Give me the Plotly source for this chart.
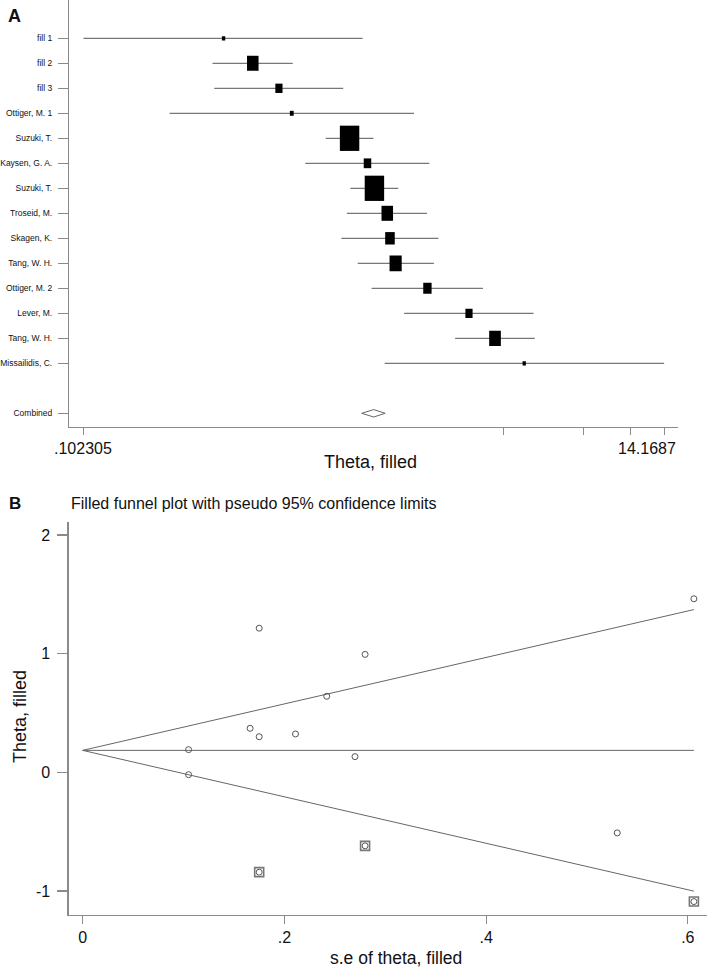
import numpy as np
import plotly.graph_objects as go

# ---------------- data ----------------
studies = ["fill 1", "fill 2", "fill 3", "Ottiger, M. 1", "Suzuki, T.", "Kaysen, G. A.",
           "Suzuki, T.", "Troseid, M.", "Skagen, K.", "Tang, W. H.", "Ottiger, M. 2",
           "Lever, M.", "Tang, W. H.", "Missailidis, C."]
filled = [True, True, True] + [False] * 11

# log effect (theta) and its 95% CI, log scale
theta = [-1.090, -0.842, -0.620, -0.511, -0.020, 0.132, 0.191, 0.300, 0.323, 0.371,
         0.641, 0.994, 1.215, 1.463]
ci_lo = [-2.2798, -1.184, -1.169, -1.548, -0.223, -0.396, -0.013, -0.043, -0.089, 0.049,
         0.167, 0.443, 0.876, 0.278]
ci_hi = [0.091, -0.503, -0.074, 0.527, 0.183, 0.657, 0.393, 0.638, 0.734, 0.696,
         1.113, 1.542, 1.553, 2.6511]
weight_pct = [0.66, 8.0, 3.1, 0.87, 22.7, 3.4, 22.7, 8.0, 5.5, 8.9, 4.2, 3.1, 8.2, 0.66]
se = [0.606, 0.175, 0.280, 0.530, 0.105, 0.270, 0.105, 0.175, 0.211, 0.166,
      0.242, 0.280, 0.175, 0.606]

combined = {"theta": 0.185, "lo": 0.083, "hi": 0.282}

# funnel pseudo 95% limits
lim_se = [0.0, 0.606]
lim_upper = [0.185, 1.372]
lim_lower = [0.185, -1.002]
lim_center = [0.185, 0.185]

forest_tickvals = [0.102305, 3.6189, 7.1355, 10.6521, 14.1687]
forest_ticklabels = [".102305", "", "", "", "14.1687"]
funnel_xticks = [0, 0.2, 0.4, 0.6]
funnel_xlabels = ["0", ".2", ".4", ".6"]
funnel_yticks = [-1, 0, 1, 2]
funnel_ylabels = ["-1", "0", "1", "2"]

# ---------------- layout helpers ----------------
W, H = 709, 970
FONT = "Liberation Sans, Arial, Helvetica, sans-serif"
LINE = "#555555"
AXIS = "#8a8a8a"
TXT = "#111111"


def px(x):
    return x / W


def py(y):
    return 1 - y / H


fig = go.Figure()

row_y = list(range(len(studies)))
comb_y = len(studies) + 1
ROW_PX = 25.0

# CI lines
xs, ys = [], []
for i in range(len(studies)):
    xs += [np.exp(ci_lo[i]), np.exp(ci_hi[i]), None]
    ys += [row_y[i], row_y[i], None]
fig.add_trace(go.Scatter(x=xs, y=ys, mode="lines", line=dict(color=LINE, width=1),
                         xaxis="x", yaxis="y", hoverinfo="skip"))

# weighted boxes (drawn as thick vertical segments)
for i in range(len(studies)):
    h_px = 5.3 * np.sqrt(weight_pct[i])
    w_px = h_px / 1.3
    half = h_px / 2 / ROW_PX
    fig.add_trace(go.Scatter(x=[np.exp(theta[i]), np.exp(theta[i])],
                             y=[row_y[i] - half, row_y[i] + half],
                             mode="lines", line=dict(color="black", width=w_px),
                             xaxis="x", yaxis="y", hoverinfo="skip"))

# combined diamond
dh = 3.7 / ROW_PX
fig.add_trace(go.Scatter(
    x=[np.exp(combined["lo"]), np.exp(combined["theta"]), np.exp(combined["hi"]),
       np.exp(combined["theta"]), np.exp(combined["lo"])],
    y=[comb_y, comb_y - dh, comb_y, comb_y + dh, comb_y],
    mode="lines", line=dict(color="#666666", width=1), xaxis="x", yaxis="y",
    hoverinfo="skip"))

# funnel limit lines
for ys_ in (lim_upper, lim_lower, lim_center):
    fig.add_trace(go.Scatter(x=lim_se, y=ys_, mode="lines",
                             line=dict(color="#666666", width=1),
                             xaxis="x2", yaxis="y2", hoverinfo="skip"))

# funnel points
fig.add_trace(go.Scatter(x=se, y=theta, mode="markers",
                         marker=dict(symbol="circle-open", size=6, color="#555555",
                                     line=dict(width=1)),
                         xaxis="x2", yaxis="y2"))
fse = [s for s, f in zip(se, filled) if f]
fth = [t for t, f in zip(theta, filled) if f]
fig.add_trace(go.Scatter(x=fse, y=fth, mode="markers",
                         marker=dict(symbol="square-open", size=9, color="#777777",
                                     line=dict(width=1.6)),
                         xaxis="x2", yaxis="y2"))

axis_common = dict(showgrid=False, zeroline=False, showline=True, linecolor=AXIS,
                   linewidth=1.2, ticks="outside", tickcolor=AXIS, tickwidth=1.2)

fig.update_layout(
    width=W, height=H,
    margin=dict(l=0, r=0, t=0, b=0),
    paper_bgcolor="white", plot_bgcolor="white",
    showlegend=False,
    font=dict(family=FONT, color=TXT),
    xaxis=dict(domain=[px(67.3), px(678)], type="log", range=[-1.04305, 1.20282],
               anchor="y", tickvals=forest_tickvals,
               ticktext=[""] * len(forest_tickvals), ticklen=7, **axis_common),
    yaxis=dict(domain=[py(426.7), 1.0], range=[15.536, -1.532], anchor="x",
               tickvals=row_y + [comb_y], ticktext=studies + ["Combined"],
               ticklen=10, ticklabelstandoff=4,
               tickfont=dict(size=8.5, family=FONT, color=TXT), **axis_common),
    xaxis2=dict(domain=[px(66.7), px(707)], range=[-0.01404, 0.6190], anchor="y2",
                tickvals=funnel_xticks, ticktext=funnel_xlabels, ticklen=8,
                tickfont=dict(size=16, family=FONT, color=TXT), **axis_common),
    yaxis2=dict(domain=[py(915), py(521.7)], range=[-1.2032, 2.113], anchor="x2",
                tickvals=funnel_yticks, ticktext=funnel_ylabels, ticklen=10,
                ticklabelstandoff=4,
                tickfont=dict(size=16, family=FONT, color=TXT), **axis_common),
)

ann = []
ann.append(dict(text="<b>A</b>", xref="paper", yref="paper", x=px(13), y=py(16),
                xanchor="center", yanchor="middle", showarrow=False,
                font=dict(size=18, family=FONT, color=TXT)))
ann.append(dict(text="<b>B</b>", xref="paper", yref="paper", x=px(13), y=py(503),
                xanchor="center", yanchor="middle", showarrow=False,
                font=dict(size=17, family=FONT, color=TXT)))
ann.append(dict(text="Filled funnel plot with pseudo 95% confidence limits",
                xref="paper", yref="paper", x=px(66.7), y=py(503), xanchor="left",
                yanchor="middle", showarrow=False,
                font=dict(size=16, family=FONT, color=TXT)))
# forest x tick labels
ann.append(dict(text=forest_ticklabels[0], xref="x", yref="paper",
                x=np.log10(forest_tickvals[0]), y=py(448), xanchor="center",
                yanchor="middle", showarrow=False,
                font=dict(size=16, family=FONT, color=TXT)))
ann.append(dict(text=forest_ticklabels[-1], xref="x", yref="paper",
                x=np.log10(forest_tickvals[-1]), y=py(448), xanchor="right",
                xshift=14, yanchor="middle", showarrow=False,
                font=dict(size=16, family=FONT, color=TXT)))
ann.append(dict(text="Theta, filled", xref="paper", yref="paper", x=px(370), y=py(462),
                xanchor="center", yanchor="middle", showarrow=False,
                font=dict(size=18, family=FONT, color=TXT)))
ann.append(dict(text="Theta, filled", xref="paper", yref="paper", x=px(18), y=py(716),
                xanchor="center", yanchor="middle", textangle=-90, showarrow=False,
                font=dict(size=18, family=FONT, color=TXT)))
ann.append(dict(text="s.e of theta, filled", xref="paper", yref="paper", x=px(395),
                y=py(958), xanchor="center", yanchor="middle", showarrow=False,
                font=dict(size=17.5, family=FONT, color=TXT)))
fig.update_layout(annotations=ann)

fig.write_html("out.html",
               config={"displayModeBar": False, "staticPlot": True},
               post_script="document.body.style.margin='0px';"
                           "document.body.style.overflow='hidden';")
